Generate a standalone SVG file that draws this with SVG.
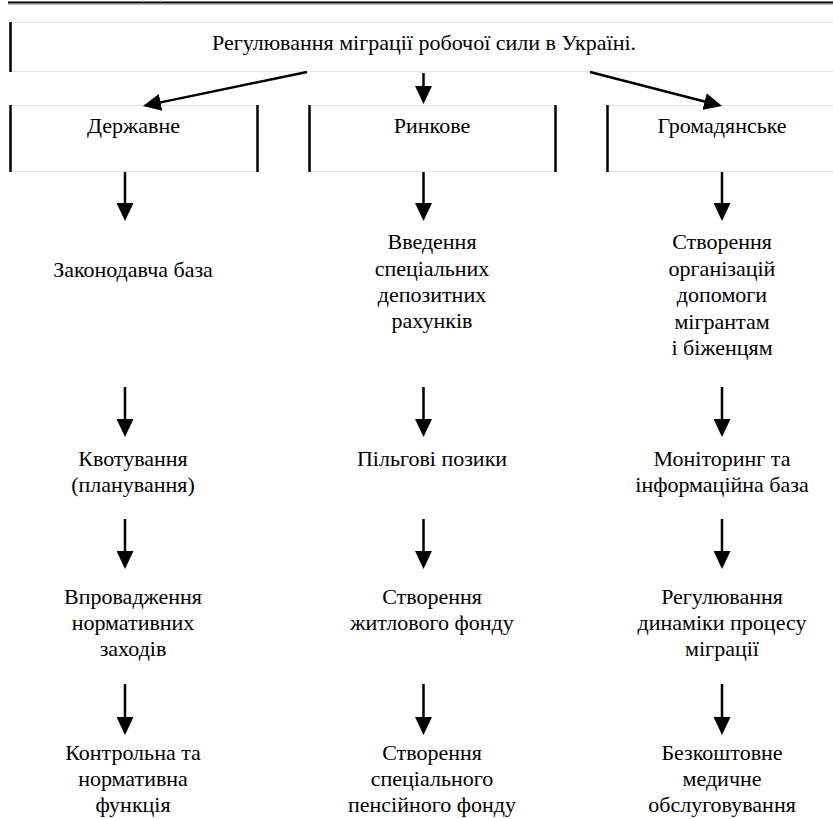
<svg xmlns="http://www.w3.org/2000/svg" width="833" height="819" viewBox="0 0 833 819">
<defs>
<style>
.t{font-family:'Liberation Serif',serif;font-size:22px;fill:#000;text-anchor:middle}
.side{stroke:#000;stroke-width:2.5;fill:none}
.edge{stroke:#e4e4e4;stroke-width:1;fill:none}
.c{stroke:#000;stroke-width:2.5;fill:none;marker-end:url(#ah)}
</style>
<marker id="ah" markerUnits="userSpaceOnUse" viewBox="0 0 18 17" markerWidth="18" markerHeight="17" refX="6" refY="8.5" orient="auto">
<path d="M0,0 L18,8.5 L0,17 Z" fill="#000"/>
</marker>
</defs>
<rect width="833" height="819" fill="#fff"/>
<g id="rule">
<line x1="8" y1="2.5" x2="833" y2="2.5" stroke="#000" stroke-width="2"/>
<line x1="8" y1="4.2" x2="833" y2="4.2" stroke="#999" stroke-width="1"/>
<line x1="143.5" y1="0" x2="143.5" y2="2" stroke="#bbb" stroke-width="1"/>
<line x1="160.5" y1="0" x2="160.5" y2="2" stroke="#bbb" stroke-width="1"/>
</g>
<g id="root">
<line class="edge" x1="11" y1="22.5" x2="833" y2="22.5"/>
<line class="edge" x1="11" y1="71.5" x2="833" y2="71.5"/>
<line class="side" x1="10.5" y1="22" x2="10.5" y2="72"/>
<text class="t" x="424" y="50">Регулювання міграції робочої сили в Україні.</text>
</g>
<g id="state">
<line class="edge" x1="11" y1="105.5" x2="257" y2="105.5"/>
<line class="edge" x1="11" y1="171.5" x2="257" y2="171.5"/>
<line class="side" x1="10.5" y1="105" x2="10.5" y2="172"/>
<line class="side" x1="257.5" y1="105" x2="257.5" y2="172"/>
<text class="t" x="133.5" y="133">Державне</text>
</g>
<g id="market">
<line class="edge" x1="309" y1="105.5" x2="555" y2="105.5"/>
<line class="edge" x1="309" y1="171.5" x2="555" y2="171.5"/>
<line class="side" x1="309.5" y1="105" x2="309.5" y2="172"/>
<line class="side" x1="555.5" y1="105" x2="555.5" y2="172"/>
<text class="t" x="432" y="133">Ринкове</text>
</g>
<g id="civil">
<line class="edge" x1="607" y1="105.5" x2="833" y2="105.5"/>
<line class="edge" x1="607" y1="171.5" x2="833" y2="171.5"/>
<line class="side" x1="607.5" y1="105" x2="607.5" y2="172"/>
<text class="t" x="722" y="133">Громадянське</text>
</g>
<g id="s1"><text class="t" x="133" y="277">Законодавча база</text></g>
<g id="s2"><text class="t"><tspan x="133" y="466">Квотування</tspan><tspan x="133" y="492">(планування)</tspan></text></g>
<g id="s3"><text class="t"><tspan x="133" y="604">Впровадження</tspan><tspan x="133" y="630">нормативних</tspan><tspan x="133" y="656">заходів</tspan></text></g>
<g id="s4"><text class="t"><tspan x="133" y="760">Контрольна та</tspan><tspan x="133" y="786">нормативна</tspan><tspan x="133" y="812">функція</tspan></text></g>
<g id="m1"><text class="t"><tspan x="432" y="249">Введення</tspan><tspan x="432" y="276">спеціальних</tspan><tspan x="432" y="302">депозитних</tspan><tspan x="432" y="328">рахунків</tspan></text></g>
<g id="m2"><text class="t" x="432" y="466">Пільгові позики</text></g>
<g id="m3"><text class="t"><tspan x="432" y="604">Створення</tspan><tspan x="432" y="630">житлового фонду</tspan></text></g>
<g id="m4"><text class="t"><tspan x="432" y="760">Створення</tspan><tspan x="432" y="786">спеціального</tspan><tspan x="432" y="812">пенсійного фонду</tspan></text></g>
<g id="c1"><text class="t"><tspan x="722" y="249">Створення</tspan><tspan x="722" y="276">організацій</tspan><tspan x="722" y="302">допомоги</tspan><tspan x="722" y="329">мігрантам</tspan><tspan x="722" y="355">і біженцям</tspan></text></g>
<g id="c2"><text class="t"><tspan x="722" y="466">Моніторинг та</tspan><tspan x="722" y="492">інформаційна база</tspan></text></g>
<g id="c3"><text class="t"><tspan x="722" y="604">Регулювання</tspan><tspan x="722" y="630">динаміки процесу</tspan><tspan x="722" y="656">міграції</tspan></text></g>
<g id="c4"><text class="t"><tspan x="722" y="760">Безкоштовне</tspan><tspan x="722" y="786">медичне</tspan><tspan x="722" y="812">обслуговування</tspan></text></g>
<g id="connectors">
<line class="c" x1="307" y1="72" x2="154.7" y2="103.6"/>
<line class="c" x1="423.5" y1="73" x2="423.5" y2="92"/>
<line class="c" x1="590" y1="72" x2="710.4" y2="103"/>
<line class="c" x1="125" y1="172" x2="125" y2="209"/>
<line class="c" x1="423.5" y1="172" x2="423.5" y2="209"/>
<line class="c" x1="722" y1="172" x2="722" y2="209"/>
<line class="c" x1="125" y1="387" x2="125" y2="425"/>
<line class="c" x1="423.5" y1="387" x2="423.5" y2="425"/>
<line class="c" x1="722" y1="387" x2="722" y2="425"/>
<line class="c" x1="125" y1="519" x2="125" y2="557"/>
<line class="c" x1="423.5" y1="519" x2="423.5" y2="557"/>
<line class="c" x1="722" y1="519" x2="722" y2="557"/>
<line class="c" x1="125" y1="684" x2="125" y2="723"/>
<line class="c" x1="423.5" y1="684" x2="423.5" y2="723"/>
<line class="c" x1="722" y1="684" x2="722" y2="723"/>
</g>
</svg>
